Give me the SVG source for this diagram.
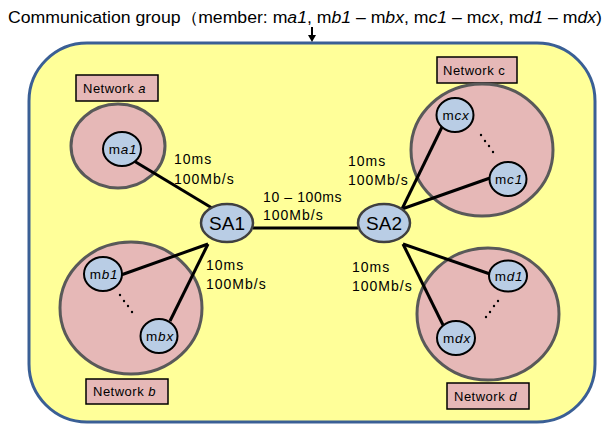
<svg xmlns="http://www.w3.org/2000/svg" width="605" height="425" viewBox="0 0 605 425">
<style>
text{font-family:"Liberation Sans",Arial,sans-serif;fill:#000}
.net{fill:#e6b8b7;stroke:#595959;stroke-width:3}
.mem{fill:#b9cde5;stroke:#000;stroke-width:2}
.sa{fill:#b9cde5;stroke:#404040;stroke-width:2.5}
.lbl{fill:#e6b8b7;stroke:#000;stroke-width:1.5}
.t{font-size:14px;letter-spacing:1px}
.m{font-size:13.5px;letter-spacing:0.8px}
.l{font-size:13px;letter-spacing:0.5px}
.c{stroke:#000;stroke-width:3;fill:none}
.dot{fill:#000}
</style>
<text x="8" y="23" font-size="16" textLength="594" lengthAdjust="spacingAndGlyphs">Communication group（member: m<tspan font-style="italic">a1</tspan>, m<tspan font-style="italic">b1</tspan> – m<tspan font-style="italic">bx</tspan>, m<tspan font-style="italic">c1</tspan> – m<tspan font-style="italic">cx</tspan>, m<tspan font-style="italic">d1</tspan> – m<tspan font-style="italic">dx</tspan>)</text>
<g id="group-box">
<rect x="29" y="43" width="566" height="379" rx="58" ry="58" fill="#ffff99" stroke="#3a5f95" stroke-width="3"/>
</g>
<g id="title-arrow">
<line x1="312" y1="27" x2="312" y2="36" stroke="#000" stroke-width="2"/>
<polygon points="308,35 316,35 312,42" fill="#000"/>
</g>

<g id="network-a">
<rect class="lbl" x="76" y="75" width="82" height="26"/>
<text class="l" x="83" y="93">Network <tspan font-style="italic">a</tspan></text>
<ellipse class="net" cx="118" cy="146" rx="47" ry="42"/>
</g>
<g id="network-b">
<ellipse class="net" cx="131" cy="308" rx="71" ry="66"/>
<rect class="lbl" x="86" y="379" width="82" height="25"/>
<text class="l" x="93" y="396">Network <tspan font-style="italic">b</tspan></text>
</g>
<g id="network-c">
<rect class="lbl" x="437" y="57" width="80" height="26"/>
<text class="l" x="443" y="75">Network c</text>
<ellipse class="net" cx="482" cy="150" rx="71" ry="66"/>
</g>
<g id="network-d">
<ellipse class="net" cx="488" cy="314" rx="71" ry="66"/>
<rect class="lbl" x="447" y="383" width="82" height="26"/>
<text class="l" x="454" y="401">Network <tspan font-style="italic">d</tspan></text>
</g>

<g id="connectors">
<line class="c" x1="134" y1="161" x2="212" y2="208"/>
<line class="c" x1="253" y1="228" x2="358" y2="228"/>
<line class="c" x1="208" y1="244" x2="121" y2="275"/>
<line class="c" x1="208" y1="244" x2="170" y2="321"/>
<line class="c" x1="402" y1="209" x2="442" y2="127"/>
<line class="c" x1="402" y1="209" x2="490" y2="178"/>
<line class="c" x1="403" y1="244" x2="490" y2="274"/>
<line class="c" x1="403" y1="244" x2="443" y2="325"/>
</g>

<g id="dots">
<circle class="dot" cx="481" cy="135" r="1.2"/><circle class="dot" cx="485" cy="141" r="1.2"/><circle class="dot" cx="489" cy="146" r="1.2"/><circle class="dot" cx="493" cy="152" r="1.2"/>
<circle class="dot" cx="120" cy="295" r="1.2"/><circle class="dot" cx="124" cy="301" r="1.2"/><circle class="dot" cx="128" cy="306" r="1.2"/><circle class="dot" cx="132" cy="312" r="1.2"/>
<circle class="dot" cx="498" cy="301" r="1.2"/><circle class="dot" cx="494" cy="306" r="1.2"/><circle class="dot" cx="490" cy="312" r="1.2"/><circle class="dot" cx="486" cy="317" r="1.2"/>
</g>

<g id="ma1"><ellipse class="mem" cx="122" cy="149" rx="19" ry="17"/><text class="m" x="123" y="154" text-anchor="middle">m<tspan font-style="italic">a1</tspan></text></g>
<g id="mb1"><ellipse class="mem" cx="103" cy="274" rx="19" ry="17"/><text class="m" x="104" y="279" text-anchor="middle">m<tspan font-style="italic">b1</tspan></text></g>
<g id="mbx"><ellipse class="mem" cx="159" cy="336" rx="18.5" ry="17"/><text class="m" x="160" y="341" text-anchor="middle">m<tspan font-style="italic">bx</tspan></text></g>
<g id="mcx"><ellipse class="mem" cx="455" cy="115" rx="18.5" ry="17"/><text class="m" x="456" y="120" text-anchor="middle">m<tspan font-style="italic">cx</tspan></text></g>
<g id="mc1"><ellipse class="mem" cx="508" cy="179" rx="18.5" ry="17"/><text class="m" x="509" y="184" text-anchor="middle">m<tspan font-style="italic">c1</tspan></text></g>
<g id="md1"><ellipse class="mem" cx="508" cy="276" rx="19" ry="15.5"/><text class="m" x="509" y="281" text-anchor="middle">m<tspan font-style="italic">d1</tspan></text></g>
<g id="mdx"><ellipse class="mem" cx="456" cy="338" rx="19" ry="17"/><text class="m" x="457" y="343" text-anchor="middle">m<tspan font-style="italic">dx</tspan></text></g>

<g id="SA1"><ellipse class="sa" cx="227" cy="223" rx="26" ry="19"/><text x="227" y="230" font-size="19" text-anchor="middle">SA1</text></g>
<g id="SA2"><ellipse class="sa" cx="384" cy="223" rx="26" ry="19"/><text x="384" y="230" font-size="19" text-anchor="middle">SA2</text></g>

<g id="link-labels" class="t">
<text x="174" y="164">10ms</text><text x="174" y="184">100Mb/s</text>
<text x="263" y="202" letter-spacing="0.6">10 – 100ms</text><text x="263" y="220">100Mb/s</text>
<text x="348" y="166">10ms</text><text x="348" y="185">100Mb/s</text>
<text x="206" y="270">10ms</text><text x="206" y="289">100Mb/s</text>
<text x="352" y="272">10ms</text><text x="352" y="291">100Mb/s</text>
</g>
</svg>
